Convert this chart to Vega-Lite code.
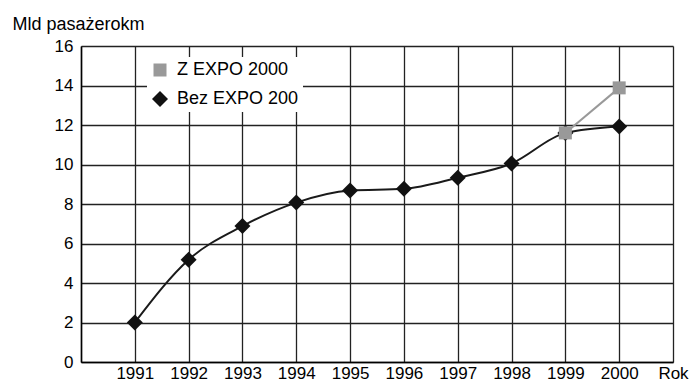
{
  "$schema": "https://vega.github.io/schema/vega-lite/v6.json",
  "width": 592,
  "height": 316,
  "autosize": {"type": "none"},
  "padding": {"left": 81, "top": 46, "right": 18, "bottom": 21},
  "background": "white",
  "config": {
    "view": {"stroke": null},
    "font": "Liberation Sans",
    "axis": {
      "gridColor": "#222222",
      "gridWidth": 1.3,
      "gridOpacity": 1,
      "domainColor": "#000000",
      "domainWidth": 1.5,
      "ticks": false,
      "labelColor": "#000000",
      "labelFontSize": 17,
      "labelFont": "Liberation Sans",
      "titleFont": "Liberation Sans",
      "titleFontWeight": "normal",
      "titleColor": "#000000"
    }
  },
  "data": {
    "values": [
      {"year": 1991, "value": 2.0, "series": "Bez EXPO 200"},
      {"year": 1992, "value": 5.18, "series": "Bez EXPO 200"},
      {"year": 1993, "value": 6.88, "series": "Bez EXPO 200"},
      {"year": 1994, "value": 8.07, "series": "Bez EXPO 200"},
      {"year": 1995, "value": 8.68, "series": "Bez EXPO 200"},
      {"year": 1996, "value": 8.77, "series": "Bez EXPO 200"},
      {"year": 1997, "value": 9.33, "series": "Bez EXPO 200"},
      {"year": 1998, "value": 10.05, "series": "Bez EXPO 200"},
      {"year": 1999, "value": 11.6, "series": "Bez EXPO 200"},
      {"year": 2000, "value": 11.93, "series": "Bez EXPO 200"},
      {"year": 1999, "value": 11.6, "series": "Z EXPO 2000"},
      {"year": 2000, "value": 13.88, "series": "Z EXPO 2000"}
    ]
  },
  "encoding": {
    "x": {
      "field": "year",
      "type": "quantitative",
      "scale": {"domain": [1990, 2001], "nice": false, "zero": false},
      "axis": {
        "values": [1990, 1991, 1992, 1993, 1994, 1995, 1996, 1997, 1998, 1999, 2000, 2001],
        "format": "d",
        "labelExpr": "datum.value == 1990 ? '' : datum.value == 2001 ? 'Rok' : datum.label",
        "labelPadding": 3,
        "labelFlush": false,
        "labelOverlap": false,
        "title": null
      }
    },
    "y": {
      "field": "value",
      "type": "quantitative",
      "scale": {"domain": [0, 16], "nice": false},
      "axis": {
        "values": [0, 2, 4, 6, 8, 10, 12, 14, 16],
        "format": "d",
        "labelPadding": 8,
        "labelFlush": false,
        "labelOverlap": false,
        "title": "Mld pasażerokm",
        "titleFontSize": 18,
        "titleAngle": 0,
        "titleX": -69,
        "titleY": -17,
        "titleAlign": "left",
        "titleBaseline": "alphabetic",
        "titleAnchor": null
      }
    }
  },
  "layer": [
    {
      "transform": [{"filter": "datum.series == 'Bez EXPO 200'"}],
      "mark": {"type": "line", "color": "#1a1a1a", "strokeWidth": 2, "interpolate": "monotone"}
    },
    {
      "transform": [{"filter": "datum.series == 'Z EXPO 2000'"}],
      "mark": {"type": "line", "color": "#999999", "strokeWidth": 2}
    },
    {
      "mark": {"type": "point", "filled": true, "opacity": 1, "strokeWidth": 0},
      "encoding": {
        "color": {
          "field": "series",
          "type": "nominal",
          "title": null,
          "scale": {"domain": ["Z EXPO 2000", "Bez EXPO 200"], "range": ["#999999", "#111111"]},
          "legend": {
            "orient": "none",
            "legendX": 66,
            "legendY": 11,
            "fillColor": "white",
            "strokeColor": null,
            "padding": 4,
            "rowPadding": 11,
            "labelFontSize": 18,
            "labelFont": "Liberation Sans",
            "labelColor": "#000000",
            "labelOffset": 8,
            "symbolStrokeWidth": 0,
            "symbolOpacity": 1
          }
        },
        "shape": {
          "field": "series",
          "type": "nominal",
          "title": null,
          "scale": {"domain": ["Z EXPO 2000", "Bez EXPO 200"], "range": ["square", "diamond"]}
        },
        "size": {
          "field": "series",
          "type": "nominal",
          "title": null,
          "scale": {"domain": ["Z EXPO 2000", "Bez EXPO 200"], "range": [169, 256]}
        }
      }
    }
  ]
}
